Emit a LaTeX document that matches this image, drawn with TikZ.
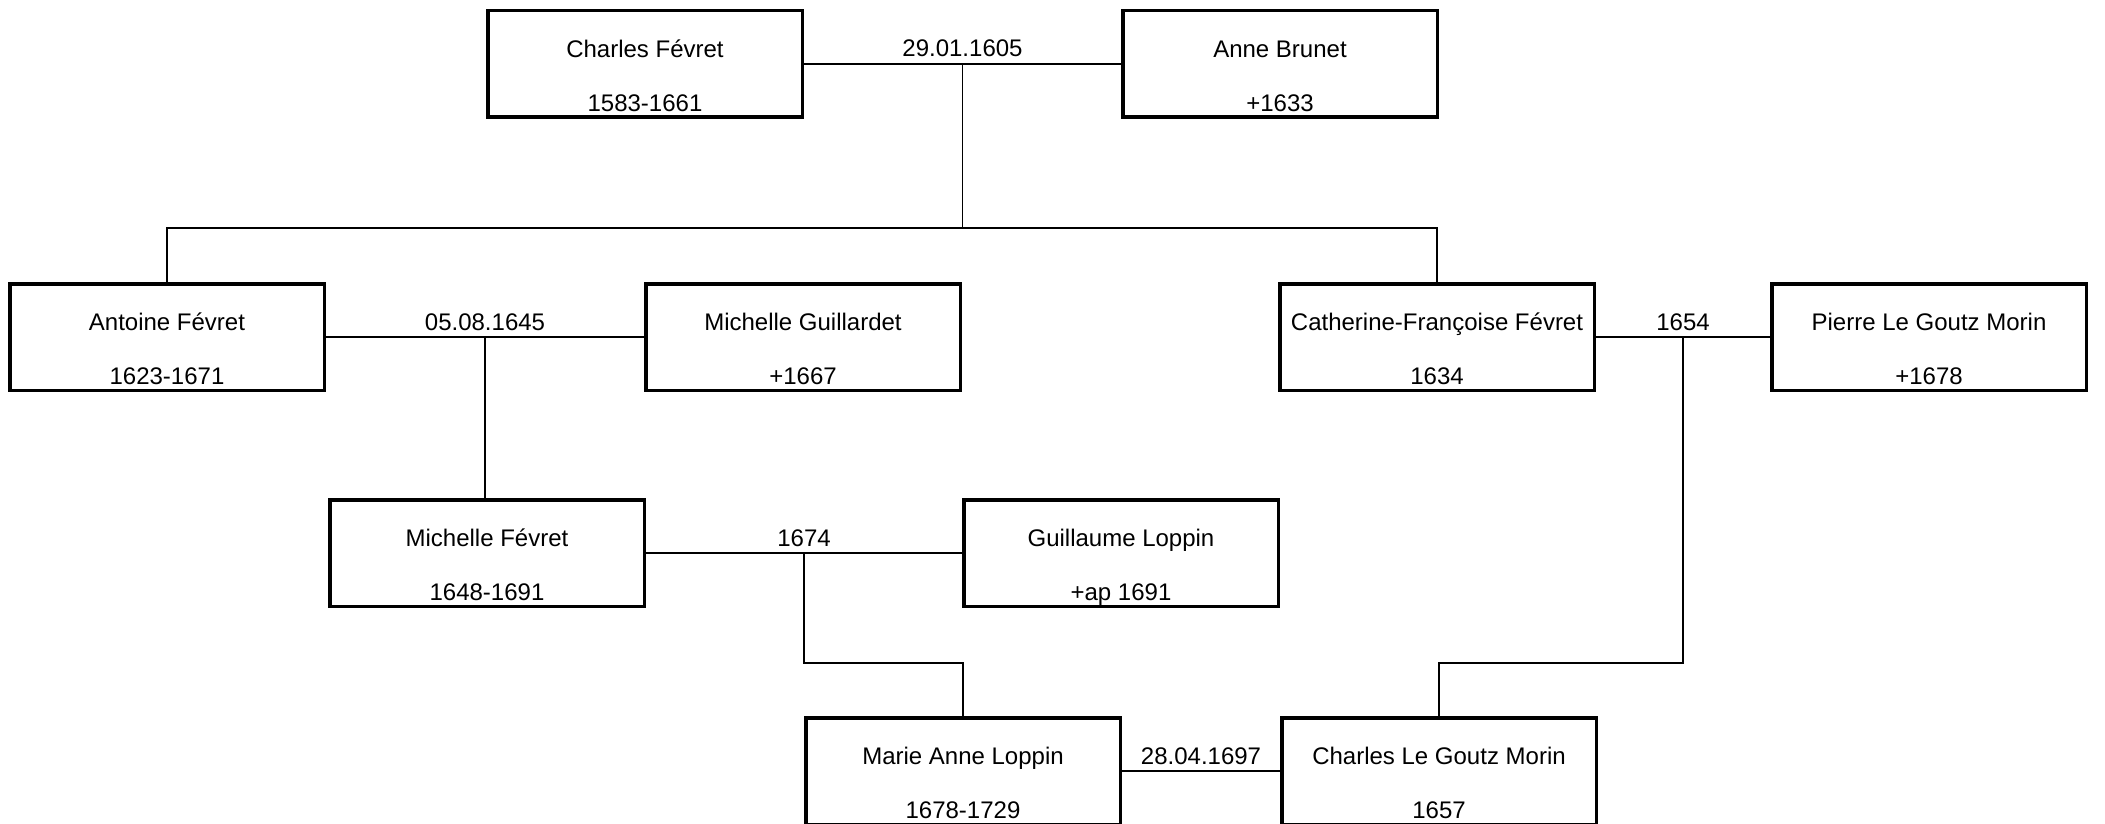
\documentclass[tikz,border=0pt]{standalone}
\usepackage{fontspec}
\setmainfont{Liberation Sans}
\tikzset{
  pbox/.style={draw=black, line width=3.5pt, rectangle, minimum width=314.5pt, minimum height=106.5pt, inner sep=0pt, outer sep=0pt},
  ptxt/.style={anchor=base, inner sep=0pt, font=\fontsize{24}{28}\selectfont, text=black},
  conn/.style={draw=black, line width=1.3pt},
}
\newcommand\personbox[5]{%
  \node[pbox] (#1) at ({#2+159},{-(#3+55)}) {};
  \node[ptxt] (#1-n) at ([yshift=-46.3pt]#1.north) {#4};
  \node[ptxt] (#1-d) at ([yshift=-100.3pt]#1.north) {#5};
}
\begin{document}
\begin{tikzpicture}[x=1pt,y=1pt]
\useasboundingbox (0,0) rectangle (2105,-824);
\fill[white] (0,0) rectangle (2105,-824);
\personbox{cf}{486}{9}{Charles Févret}{1583-1661}
\personbox{ab}{1121}{9}{Anne Brunet}{+1633}
\personbox{af}{8}{282}{Antoine Févret}{1623-1671}
\personbox{mg}{644}{282}{Michelle Guillardet}{+1667}
\personbox{cff}{1278}{282}{Catherine-Françoise Févret}{1634}
\personbox{plgm}{1770}{282}{Pierre Le Goutz Morin}{+1678}
\personbox{mf}{328}{498}{Michelle Févret}{1648-1691}
\personbox{gl}{962}{498}{Guillaume Loppin}{+ap 1691}
\personbox{mal}{804}{716}{Marie Anne Loppin}{1678-1729}
\personbox{clgm}{1280}{716}{Charles Le Goutz Morin}{1657}
% bus levels
\coordinate (b1) at (0,-228);
\coordinate (b2) at (0,-663);
% marriages
\draw[conn] (cf.east) -- coordinate[midway] (m1) (ab.west);
\draw[conn] (af.east) -- coordinate[midway] (m2) (mg.west);
\draw[conn] (cff.east) -- coordinate[midway] (m3) (plgm.west);
\draw[conn] (mf.east) -- coordinate[midway] (m4) (gl.west);
\draw[conn] (mal.east) -- coordinate[midway] (m5) (clgm.west);
\node[ptxt] (l1) at ([yshift=7pt]m1) {29.01.1605};
\node[ptxt] (l2) at ([yshift=7pt]m2) {05.08.1645};
\node[ptxt] (l3) at ([yshift=7pt]m3) {1654};
\node[ptxt] (l4) at ([yshift=7pt]m4) {1674};
\node[ptxt] (l5) at ([yshift=7pt]m5) {28.04.1697};
% descendants
\draw[conn] (m1) -- (m1 |- b1);
\draw[conn] (af.north) -- (af.north |- b1) -- (cff.north |- b1) -- (cff.north);
\draw[conn] (m2) -- (m2 |- mf.north);
\draw[conn] (m3) -- (m3 |- b2) -- (clgm.north |- b2) -- (clgm.north);
\draw[conn] (m4) -- (m4 |- b2) -- (mal.north |- b2) -- (mal.north);
\end{tikzpicture}
\end{document}
